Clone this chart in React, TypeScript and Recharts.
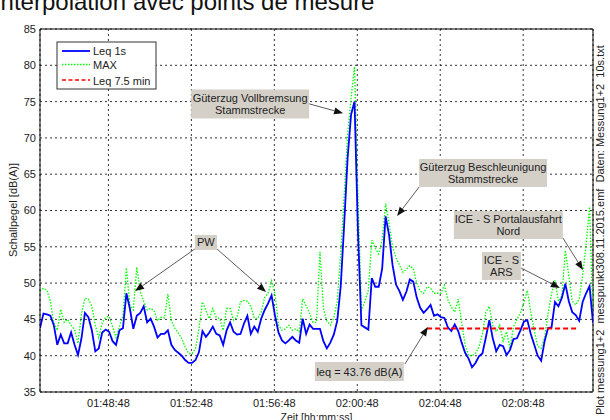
import React from 'react';
import { LineChart, Line, XAxis, YAxis, CartesianGrid, ReferenceLine } from 'recharts';

// time grid: seconds since midnight, 10 s steps
const startSec = 6330; // 01:45:30
const stepSec = 10;

const leq1s = [
  43.8, 45.8, 45.7, 45.5, 44.2, 41.5, 42.9, 41.7, 41.7, 43.2,
  41.5, 40.1, 42.4, 45.9, 45.3, 43.5, 40.6, 41.0, 43.2, 43.6,
  43.3, 42.0, 41.5, 43.5, 43.8, 48.6, 46.5, 43.7, 45.5, 45.9,
  46.8, 44.6, 45.1, 44.0, 42.5, 43.0, 43.0, 43.5, 41.5, 40.8,
  40.4, 40.0, 39.4, 39.0, 39.0, 39.4, 40.5, 43.4, 42.6, 43.2,
  44.0, 43.0, 42.8, 41.5, 43.5, 44.6, 43.3, 42.9, 43.0, 44.4,
  45.5, 43.0, 44.0, 43.3, 45.1, 46.3, 47.2, 48.3, 45.5, 43.2,
  42.1, 41.7, 42.1, 42.6, 42.1, 41.8, 45.1, 43.0, 44.3, 43.7,
  43.7, 43.7, 42.0, 41.0, 41.8, 42.9, 44.8, 49.5, 58.0, 67.2,
  73.2, 75.0, 57.0, 44.2, 43.9, 43.6, 50.7, 49.5, 49.5, 52.0,
  59.2, 56.6, 52.5, 49.8, 48.9, 47.7, 48.8, 50.5, 50.2, 48.0,
  46.6, 45.9, 46.4, 47.0, 45.5, 45.7, 45.3, 45.2, 43.9, 43.4,
  44.3, 43.4, 41.8, 40.4, 39.6, 38.4, 39.0, 39.9, 40.3, 42.5,
  44.9, 42.4, 40.6, 41.5, 41.3, 40.1, 40.8, 42.3, 42.4, 43.5,
  44.7, 44.9, 43.0, 41.5, 40.0, 39.3, 42.0, 43.8, 43.9, 47.4,
  46.8, 48.0, 49.9, 47.5, 46.0, 45.6, 44.8, 47.4, 48.6, 49.6,
  44.5,
];

const maxLevel = [
  48.9, 49.3, 49.0, 47.5, 44.5, 43.5, 46.4, 44.6, 45.0, 44.2,
  43.6, 41.7, 45.8, 47.9, 47.8, 46.8, 44.2, 42.5, 44.5, 45.3,
  45.4, 44.0, 42.5, 44.0, 45.5, 52.1, 47.0, 46.3, 52.2, 48.8,
  47.5, 46.3, 46.5, 46.2, 44.8, 45.3, 45.2, 48.5, 44.8, 43.8,
  43.1, 42.4, 41.2, 40.3, 40.3, 41.0, 43.7, 47.4, 46.2, 45.1,
  46.5, 45.3, 45.1, 43.5, 46.5, 46.5, 44.9, 45.3, 47.4, 47.6,
  47.5, 46.8, 45.2, 45.1, 46.0, 48.0, 48.6, 50.3, 48.5, 44.2,
  43.5, 43.7, 44.2, 43.5, 43.7, 43.3, 47.8, 46.9, 45.8, 44.6,
  44.6, 54.3, 46.5, 44.8, 44.2, 45.2, 47.5, 54.0, 62.0, 70.5,
  75.5, 79.8, 62.0, 46.2, 47.5, 49.0, 55.9, 54.8, 54.0, 56.0,
  61.0, 58.2, 55.0, 53.5, 52.5, 51.5, 51.9, 52.4, 52.0, 50.0,
  48.9, 48.6, 49.5, 49.3, 48.6, 48.6, 48.6, 49.7, 47.7, 46.7,
  46.0, 47.8, 44.5, 41.5, 40.0, 40.0, 40.3, 41.2, 43.0, 46.0,
  46.8, 44.2, 43.3, 44.2, 42.0, 43.3, 41.0, 44.0, 45.0, 45.9,
  47.3, 49.0, 46.0, 43.5, 41.3, 41.0, 42.5, 45.8, 48.5, 50.4,
  47.5, 48.3, 54.5, 51.0, 47.5, 47.0, 47.8, 51.0, 55.3, 60.5,
  45.0,
];

const leqPeriodValue = 43.76;
const leqPeriodStart = 7450; // 02:04:10
const leqPeriodEnd = 7890; // 02:11:30

const xTicks = [6528, 6768, 7008, 7248, 7488, 7728];
const yTicks = [35, 40, 45, 50, 55, 60, 65, 70, 75, 80, 85];
const xDomain: [number, number] = [6330, 7930];
const yDomain: [number, number] = [35, 85];

const legendItems = ['Leq 1s', 'MAX', 'Leq 7.5 min'];

// annotations: box centre and arrows (tail -> tip) in data units (s, dB)
const annotations = [
  { lines: ['Güterzug Vollbremsung', 'Stammstrecke'], box: [6938, 74.67], w: 118, h: 29,
    arrows: [[[7108, 74.7], [7207, 73.4]]] },
  { lines: ['Güterzug Beschleunigung', 'Stammstrecke'], box: [7612, 65.17], w: 128, h: 28,
    arrows: [[[7427, 63.24], [7363, 59.24]]] },
  { lines: ['ICE - S Portalausfahrt', 'Nord'], box: [7685, 58.0], w: 109, h: 28,
    arrows: [[[7843, 56.21], [7901, 51.8]]] },
  { lines: ['ICE - S', 'ARS'], box: [7665, 52.36], w: 39, h: 28,
    arrows: [[[7722, 52.08], [7834, 49.33]]] },
  { lines: ['PW'], box: [6810, 55.6], w: 22, h: 15,
    arrows: [[[6778, 54.7], [6605, 48.9]], [[6842, 54.7], [6984, 48.77]]] },
  { lines: ['leq = 43.76 dB(A)'], box: [7254, 37.82], w: 89, h: 19,
    arrows: [[[7386, 38.86], [7452, 43.95]]] },
];

const data = leq1s.map((v, i) => {
  const t = startSec + i * stepSec;
  return {
    t,
    leq: v,
    max: maxLevel[i],
    period: t >= leqPeriodStart && t <= leqPeriodEnd ? leqPeriodValue : null,
  };
});

const PLOT = { left: 40, top: 29, width: 553, height: 363 };
const px = (t: number) => PLOT.left + ((t - xDomain[0]) / (xDomain[1] - xDomain[0])) * PLOT.width;
const py = (v: number) => PLOT.top + ((yDomain[1] - v) / (yDomain[1] - yDomain[0])) * PLOT.height;

const pad = (n: number) => String(n).padStart(2, '0');
const fmtTime = (s: number) => `${pad(Math.floor(s / 3600))}:${pad(Math.floor((s % 3600) / 60))}:${pad(s % 60)}`;

const FONT = '"Liberation Sans", Arial, Helvetica, sans-serif';
const TEXT = '#222';

function Arrow({ from, to }: { from: number[]; to: number[] }) {
  const x1 = px(from[0]), y1 = py(from[1]), x2 = px(to[0]), y2 = py(to[1]);
  const dx = x2 - x1, dy = y2 - y1;
  const len = Math.hypot(dx, dy);
  const ux = dx / len, uy = dy / len;
  const hl = 9, hw = 3.5;
  const bx = x2 - ux * hl, by = y2 - uy * hl;
  const p1 = `${x2},${y2}`;
  const p2 = `${bx - uy * hw},${by + ux * hw}`;
  const p3 = `${bx + uy * hw},${by - ux * hw}`;
  return (
    <g>
      <line x1={x1} y1={y1} x2={bx} y2={by} stroke="#333" strokeWidth={0.8} />
      <polygon points={`${p1} ${p2} ${p3}`} fill="#111" />
    </g>
  );
}

export default function App() {
  return (
    <div style={{ position: 'absolute', left: 0, top: 0, width: 610, height: 420, background: '#fff', overflow: 'hidden' }}>
      <LineChart width={610} height={420} data={data} margin={{ top: 29, right: 17, left: 10, bottom: 8 }}>
        <CartesianGrid stroke="#000" strokeDasharray="2 3" strokeWidth={0.8} />
        <XAxis
          dataKey="t"
          type="number"
          domain={xDomain}
          ticks={xTicks}
          interval={0}
          allowDataOverflow
          tickFormatter={fmtTime}
          tickLine={false}
          tickSize={6}
          tickMargin={1}
          height={20}
          axisLine={{ stroke: '#000', strokeWidth: 1 }}
          tick={{ fontSize: 11, fill: TEXT, fontFamily: FONT }}
        />
        <YAxis
          type="number"
          domain={yDomain}
          ticks={yTicks}
          interval={0}
          allowDataOverflow
          tickLine={false}
          tickSize={4}
          tickMargin={0}
          width={30}
          axisLine={{ stroke: '#000', strokeWidth: 1 }}
          tick={{ fontSize: 11, fill: TEXT, fontFamily: FONT }}
        />
        <ReferenceLine y={yDomain[1]} stroke="#000" strokeWidth={1} />
        <ReferenceLine x={xDomain[1]} stroke="#000" strokeWidth={1} />
        <Line type="linear" dataKey="max" stroke="#00ff00" strokeWidth={1.3} strokeDasharray="1.5 1.5" dot={false} isAnimationActive={false} />
        <Line type="linear" dataKey="leq" stroke="#0000ff" strokeWidth={1.8} dot={false} isAnimationActive={false} />
        <Line type="linear" dataKey="period" stroke="#ff0000" strokeWidth={2} strokeDasharray="5 3" dot={false} connectNulls={false} isAnimationActive={false} />
      </LineChart>

      <svg width={610} height={420} style={{ position: 'absolute', left: 0, top: 0, pointerEvents: 'none' }} fontFamily={FONT}>
        {/* title, cut off at the top */}
        <text x={126} y={10} fontSize={24} fill="#111" textAnchor="end">Interpolation</text>
        <text x={133} y={10} fontSize={24} fill="#111">avec points de mesure</text>

        {/* axis labels */}
        <text transform="translate(17,210) rotate(-90)" fontSize={11} fill={TEXT} textAnchor="middle">Schallpegel [dB(A)]</text>
        <text x={316.5} y={421} fontSize={10.5} fill={TEXT} textAnchor="middle">Zeit [hh:mm:ss]</text>
        <text transform="translate(604,415) rotate(-90)" fontSize={11} fill={TEXT} style={{ whiteSpace: 'pre' }}>
          {'Plot messung1+2  messpunkt308.11.2015.emf  Daten: Messung1+2  10s.txt'}
        </text>

        {/* legend */}
        <rect x={57} y={42} width={99} height={47} fill="#fff" stroke="#333" strokeWidth={1} />
        <line x1={62} y1={51} x2={90} y2={51} stroke="#0000ff" strokeWidth={1.8} />
        <line x1={62} y1={64.5} x2={90} y2={64.5} stroke="#00ff00" strokeWidth={1.3} strokeDasharray="1.5 1.5" />
        <line x1={62} y1={80} x2={90} y2={80} stroke="#ff0000" strokeWidth={1.3} strokeDasharray="4 2.5" />
        <text x={93} y={55} fontSize={11} fill={TEXT}>{legendItems[0]}</text>
        <text x={93} y={69} fontSize={11} fill={TEXT}>{legendItems[1]}</text>
        <text x={93} y={84.5} fontSize={11} fill={TEXT}>{legendItems[2]}</text>

        {/* annotations */}
        {annotations.map((a, i) => {
          const cx = px(a.box[0]), cy = py(a.box[1]);
          const n = a.lines.length;
          return (
            <g key={i}>
              {a.arrows.map((ar, j) => <Arrow key={j} from={ar[0]} to={ar[1]} />)}
              <rect x={cx - a.w / 2} y={cy - a.h / 2} width={a.w} height={a.h} fill="#d4d0c8" />
              {a.lines.map((l, j) => (
                <text key={j} x={cx} y={cy + (j - (n - 1) / 2) * 12.5 + 4} fontSize={11} fill={TEXT} textAnchor="middle">{l}</text>
              ))}
            </g>
          );
        })}
      </svg>
    </div>
  );
}
